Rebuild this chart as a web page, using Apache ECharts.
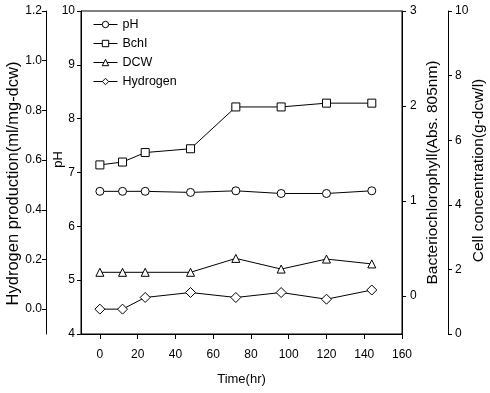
<!DOCTYPE html>
<html>
<head>
<meta charset="utf-8">
<script src="https://cdn.jsdelivr.net/npm/echarts@6/dist/echarts.min.js"></script>
<style>html,body{margin:0;padding:0;background:#fff}#c{width:490px;height:393px}</style>
</head>
<body>
<div id="c"></div>
<script>
var times = [0, 12, 24, 48, 72, 96, 120, 144];
var phValues = [6.65, 6.65, 6.65, 6.63, 6.66, 6.61, 6.61, 6.66];
var bchlValues = [1.38, 1.41, 1.51, 1.55, 1.99, 1.99, 2.03, 2.03];
var dcwValues = [1.91, 1.91, 1.91, 1.91, 2.34, 2.01, 2.32, 2.17];
var hydrogenValues = [0.0, 0.0, 0.047, 0.067, 0.047, 0.067, 0.04, 0.077];
var xTicks = [0, 20, 40, 60, 80, 100, 120, 140, 160];
var h2Ticks = [0, 0.2, 0.4, 0.6, 0.8, 1.0, 1.2];
var bchlTicks = [0, 1, 2, 3];

function pairs(vals){ return times.map(function(t,i){ return [t, vals[i]]; }); }

var FONT = 'Liberation Sans';
var txt = {color:'#000', fontFamily:FONT, fontSize:12};
function nt(size, pad){ return {color:'#000', fontFamily:FONT, fontSize:size, padding:pad}; }
var axLine = {show:true, onZero:false, lineStyle:{color:'#000', width:1}};
var axTick = {show:true, inside:false, length:4, lineStyle:{color:'#000'}};

function mk(name, sym, size, vals, yIdx){
  return {
    name:name, type:'line', xAxisIndex:0, yAxisIndex:yIdx,
    data: pairs(vals), symbol:sym, symbolSize:size, showSymbol:true,
    lineStyle:{color:'#000', width:1},
    itemStyle:{color:'#fff', borderColor:'#000', borderWidth:1},
    animation:false, z:3
  };
}

var chart = echarts.init(document.getElementById('c'), null, {renderer:'canvas'});
chart.setOption({
  animation:false,
  backgroundColor:'#fff',
  grid:{left:81, top:11, width:321, height:323, containLabel:false, outerBoundsMode:'none',
        show:true, borderColor:'#000', borderWidth:1, backgroundColor:'transparent'},
  legend:{
    orient:'vertical', left:88, top:13, itemGap:6, itemWidth:24, itemHeight:8,
    textStyle:{color:'#000', fontFamily:FONT, fontSize:12.5},
    itemStyle:{color:'#fff', borderColor:'#000', borderWidth:1},
    lineStyle:{color:'#000', width:1},
    data:['pH','BchI','DCW','Hydrogen']
  },
  xAxis:{
    type:'value', min:-10, max:160,
    name:'Time(hr)', nameLocation:'middle', nameGap:39, nameMoveOverlap:false, nameTextStyle:nt(13, 0),
    axisLine:axLine, axisTick:{show:true, length:5, lineStyle:{color:'#000'}, customValues:xTicks},
    axisLabel:Object.assign({margin:15, customValues:xTicks}, txt),
    splitLine:{show:false}
  },
  yAxis:[
    {
      type:'value', position:'left', offset:0, min:4, max:10, interval:1,
      name:'pH', nameLocation:'middle', nameGap:16, nameRotate:90, nameMoveOverlap:false,
      nameTextStyle:nt(13, [0, 0, 0, 26]),
      axisLine:axLine, axisTick:axTick, axisLabel:Object.assign({margin:6}, txt),
      splitLine:{show:false}
    },
    {
      type:'value', position:'left', offset:35, min:-0.1, max:1.2,
      name:'Hydrogen production(ml/mg-dcw)', nameLocation:'middle', nameGap:24, nameRotate:90, nameMoveOverlap:false,
      nameTextStyle:nt(16.5, [0, 22, 0, 0]),
      axisLine:axLine, axisTick:Object.assign({customValues:h2Ticks}, axTick),
      axisLabel:Object.assign({margin:4, customValues:h2Ticks, formatter:function(v){return v.toFixed(1);}}, txt),
      splitLine:{show:false}
    },
    {
      type:'value', position:'right', offset:0, min:-0.4, max:3.0,
      name:'Bacteriochlorophyll(Abs. 805nm)', nameLocation:'middle', nameGap:23, nameRotate:90, nameMoveOverlap:false,
      nameTextStyle:nt(15.5, 0),
      axisLine:axLine, axisTick:Object.assign({customValues:bchlTicks}, axTick),
      axisLabel:Object.assign({margin:8, customValues:bchlTicks}, txt),
      splitLine:{show:false}
    },
    {
      type:'value', position:'right', offset:46, min:0, max:10, interval:2,
      name:'Cell concentration(g-dcw/l)', nameLocation:'middle', nameGap:23, nameRotate:90, nameMoveOverlap:false,
      nameTextStyle:nt(15.5, [0, 0, 0, 4]),
      axisLine:axLine, axisTick:axTick, axisLabel:Object.assign({margin:7}, txt),
      splitLine:{show:false}
    }
  ],
  series:[
    mk('pH', 'circle', 8, phValues, 0),
    mk('BchI', 'rect', 8, bchlValues, 2),
    mk('DCW', 'triangle', 8, dcwValues, 3),
    mk('Hydrogen', 'diamond', 10, hydrogenValues, 1)
  ]
});
</script>
</body>
</html>
